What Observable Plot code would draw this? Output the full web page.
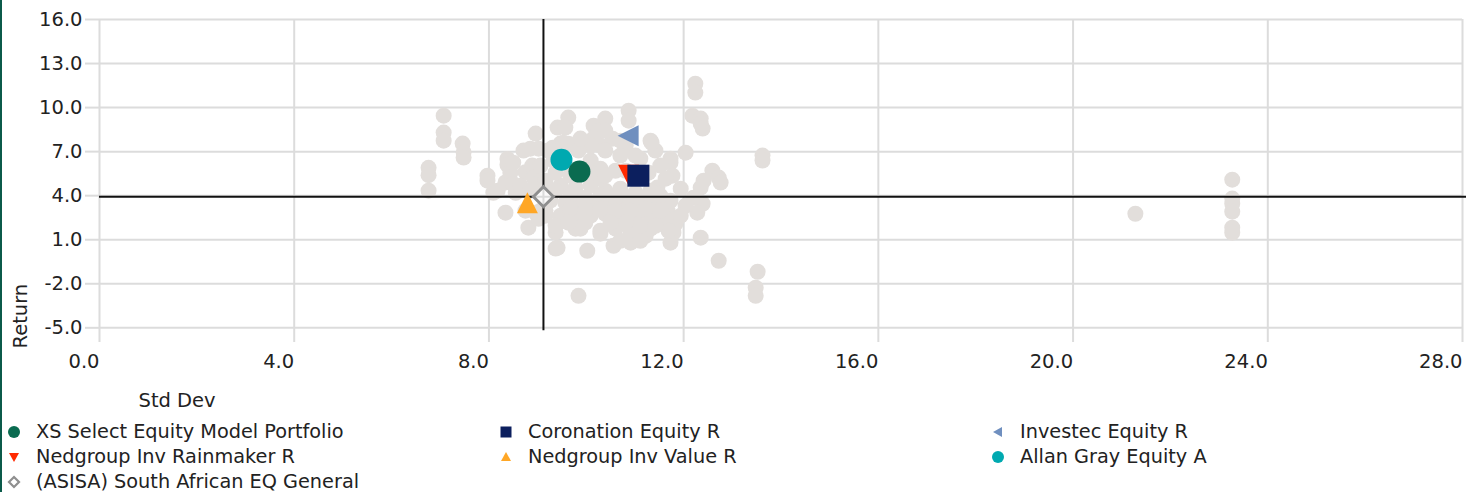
<!DOCTYPE html>
<html>
<head>
<meta charset="utf-8">
<script src="https://cdn.jsdelivr.net/npm/d3@7"></script>
<script src="https://cdn.jsdelivr.net/npm/@observablehq/plot@0.6"></script>
<style>
  html, body { margin: 0; padding: 0; background: #fff; }
  body { width: 1466px; height: 492px; overflow: hidden; position: relative; font-family: "DejaVu Sans", Verdana, sans-serif; color: #222; }
  #edge { position: absolute; left: 0; top: 0; width: 2px; height: 492px; background: #0b5a4a; z-index: 5; }
  #legend { position: relative; padding-top: 7px; font-size: 19.3px; line-height: 25px; }
  .row { display: flex; height: 25px; width: 1500px; }
  .item { flex: none; width: 492px; display: flex; align-items: center; padding-left: 6px; box-sizing: border-box; white-space: nowrap; }
  .item svg { width: 16px; height: 16px; margin-right: 14px; flex: none; }
</style>
</head>
<body>
<div id="edge"></div>
<div id="chart"></div>
<div id="legend"></div>
<script>
// ---- Data ----
const xTicks = [0, 4, 8, 12, 16, 20, 24, 28];
const yTicks = [-5, -2, 1, 4, 7, 10, 13, 16];

const fundNames = ["XS Select Equity Model Portfolio", "Coronation Equity R", "Investec Equity R",
  "Nedgroup Inv Rainmaker R", "Nedgroup Inv Value R", "Allan Gray Equity A", "(ASISA) South African EQ General"];
const fundStdDev = [9.86, 11.07, 10.86, 10.87, 8.79, 9.49, 9.12];
const fundReturn = [5.64, 5.36, 8.09, 5.40, 3.52, 6.45, 3.93];
const fundColors = ["#0a6b50", "#0c1f5e", "#6f8fbf", "#ff2a00", "#ffa726", "#00a9b0", "#8f8f8f"];
const fundShapes = ["circle", "square", "triangleLeft", "triangleDown", "triangleUp", "circle", "diamond"];

const benchStdDev = 9.12;
const benchReturn = 3.93;

const peerStdDev = [
  6.76, 6.76, 6.76, 7.07, 7.07, 7.07, 7.46, 7.48, 7.48, 7.97, 7.97, 8.09, 8.18,
  8.34, 8.34, 8.38, 8.38, 8.44, 8.50, 8.50, 8.55, 8.65, 8.71, 8.75, 8.81, 8.85,
  8.89, 8.92, 8.96, 8.96, 9.02, 9.02, 9.06, 9.16, 9.16, 9.22, 9.33, 9.37, 9.41, 9.37,
  9.41, 9.47, 9.31, 9.63, 9.57, 9.53, 9.63, 10.39, 10.15, 10.15, 10.29,
  10.87, 10.87, 11.32, 12.24, 12.24, 12.18, 12.35, 12.35, 12.39,
  12.04, 11.73, 11.73, 11.77, 12.59, 12.72, 12.76, 12.41, 12.35,
  12.20, 12.39, 12.28, 12.35, 11.46, 11.48, 11.59, 11.67,
  11.83, 11.79, 11.73, 11.22, 10.91, 10.56, 10.29, 10.02, 9.78, 9.84,
  12.72, 13.52, 13.48, 13.48, 13.62, 13.62, 21.28,
  23.27, 23.27, 23.27, 23.27, 23.27, 23.27,
  10.25, 10.54, 10.81, 10.09, 10.39, 10.70, 11.11, 11.42, 10.09, 10.29, 10.60, 11.28, 11.52, 11.63,
  9.47, 9.78, 10.09, 10.39, 10.70, 11.01, 11.32, 11.94, 10.29,
  9.26, 9.57, 9.88, 10.19, 10.50, 10.81, 11.11, 11.42, 11.73, 12.04,
  9.16, 9.47, 9.78, 10.09, 10.39, 10.70, 11.01, 11.32, 11.63, 11.94,
  9.37, 9.88, 10.29, 10.60, 10.91, 11.32, 11.69, 11.11, 10.70,
  9.16, 9.06, 8.65, 8.75, 9.06, 9.16, 9.37, 8.85, 9.67, 10.09, 9.37, 11.34,
  9.67, 9.98, 10.29, 10.60, 10.91, 11.22, 11.52, 9.67, 9.98, 10.29, 10.60, 10.91, 11.22, 11.52,
  9.63, 9.98, 11.11, 11.42, 10.81, 10.50,
  9.84, 9.88, 10.39, 10.70, 11.01, 10.39, 10.81
];
const peerReturn = [
  5.90, 5.40, 4.34, 9.45, 8.30, 7.75, 7.55, 6.95, 6.60, 5.36, 5.02, 4.20, 4.34,
  2.84, 4.90, 6.50, 6.10, 5.57, 6.25, 4.80, 4.20, 4.50, 7.07, 5.60, 1.82, 7.20,
  6.05, 5.23, 8.23, 2.84, 7.20, 2.43, 5.00, 3.00, 4.70, 7.07, 6.39, 0.40, 0.45, 1.50,
  8.64, 7.55, 7.27, 9.32, 8.64, 7.61, 7.54, 9.25, 8.77, 7.90, 7.41,
  9.79, 9.11, 7.75, 11.63, 11.02, 9.45, 9.25, 8.91, 8.57,
  6.93, 6.52, 6.25, 5.36, 5.70, 5.23, 4.89, 5.02, 4.55,
  3.86, 3.45, 2.84, 1.14, 4.55, 4.14, 3.45, 2.98,
  2.09, 1.48, 0.80, 1.27, 0.80, 0.59, 1.41, 0.25, 1.75, -2.82,
  -0.43, -1.18, -2.27, -2.82, 6.73, 6.39, 2.77,
  5.09, 3.80, 3.45, 2.91, 1.82, 1.48,
  8.43, 7.88, 7.41, 7.41, 7.07, 6.73, 6.52, 7.07, 6.39, 5.84, 5.70, 5.57, 6.05, 5.16,
  4.68, 4.55, 4.68, 4.34, 4.48, 4.20, 4.34, 4.48, 5.16,
  3.66, 3.52, 3.66, 3.45, 3.32, 3.45, 3.32, 3.32, 3.66, 3.32,
  2.64, 2.64, 2.77, 2.64, 2.77, 2.50, 2.64, 2.64, 2.43, 2.64,
  1.95, 1.75, 1.61, 1.75, 1.48, 1.75, 1.61, 0.93, 0.93,
  5.02, 6.05, 4.68, 2.98, 2.98, 3.80, 4.34, 4.34, 5.36, 5.57, 5.57, 7.61,
  4.00, 3.86, 4.00, 3.86, 3.80, 3.86, 4.00, 3.11, 2.98, 3.11, 2.98, 2.98, 3.11, 2.98,
  2.16, 2.16, 1.95, 1.95, 2.16, 2.16,
  7.07, 7.89, 8.43, 7.75, 6.73, 5.36, 5.70
];

// ---- Symbols ----
function shapeSymbol(kind) {
  return {
    draw(ctx, size) {
      const r = Math.sqrt(size / Math.PI);
      if (kind === "circle") { ctx.moveTo(r, 0); ctx.arc(0, 0, r, 0, 2 * Math.PI); }
      else if (kind === "square") { ctx.rect(-r, -r, 2 * r, 2 * r); }
      else if (kind === "triangleUp") { ctx.moveTo(0, -r); ctx.lineTo(r, r); ctx.lineTo(-r, r); ctx.closePath(); }
      else if (kind === "triangleDown") { ctx.moveTo(-r, -r); ctx.lineTo(r, -r); ctx.lineTo(0, r); ctx.closePath(); }
      else if (kind === "triangleLeft") { ctx.moveTo(-r, 0); ctx.lineTo(r, -r); ctx.lineTo(r, r); ctx.closePath(); }
      else if (kind === "diamond") { ctx.moveTo(0, -r); ctx.lineTo(r, 0); ctx.lineTo(0, r); ctx.lineTo(-r, 0); ctx.closePath(); }
    }
  };
}
const shapeR = {circle: 11, square: 11, triangleUp: 10.5, triangleDown: 10.5, triangleLeft: 10.5, diamond: 10};

const peers = peerStdDev.map((x, i) => ({x, y: peerReturn[i]}));
const funds = fundNames.map((name, i) => ({name, x: fundStdDev[i], y: fundReturn[i], color: fundColors[i], shape: fundShapes[i]}));

const fundMarks = [];
for (let i = funds.length - 2; i >= 0; i--) {
  const f = funds[i];
  fundMarks.push(Plot.dot([f], {x: "x", y: "y", r: shapeR[f.shape], symbol: shapeSymbol(f.shape), fill: f.color, stroke: "none"}));
}
{
  const f = funds[funds.length - 1];
  fundMarks.push(Plot.dot([f], {x: "x", y: "y", r: shapeR[f.shape], symbol: shapeSymbol(f.shape), fill: "#fff", fillOpacity: 0.85, stroke: f.color, strokeWidth: 3}));
}

const chart = Plot.plot({
  width: 1466,
  height: 412,
  marginTop: 19,
  marginLeft: 99,
  marginRight: 4,
  marginBottom: 70,
  x: {domain: [0, 28]},
  y: {domain: [-6, 16]},
  style: {fontFamily: "'DejaVu Sans', Verdana, sans-serif", fontSize: "19.5px", color: "#222", background: "#fff", overflow: "visible"},
  marks: [
    Plot.ruleX(xTicks, {y1: -6, y2: 16, stroke: "#dcdcdc", strokeWidth: 2}),
    Plot.ruleY(yTicks, {x1: 0, x2: 28, stroke: "#dcdcdc", strokeWidth: 2}),
    Plot.axisY({ticks: yTicks, tickSize: 14, tickPadding: 3, stroke: "#dcdcdc", strokeWidth: 2, fill: "#222", fontSize: 19.5, tickFormat: d => d.toFixed(1), label: null}),
    Plot.axisX({ticks: xTicks, tickSize: 0, tickPadding: 12, textAnchor: "end", fill: "#222", fontSize: 19.5, tickFormat: d => d.toFixed(1), label: null}),
    Plot.dot(peers, {x: "x", y: "y", r: 8, fill: "#e2dedb", stroke: "none"}),
    Plot.ruleY([benchReturn], {x1: 0, x2: 28.2, stroke: "#111", strokeWidth: 2}),
    Plot.ruleX([benchStdDev], {y1: -5.2, y2: 16, stroke: "#111", strokeWidth: 2}),
    ...fundMarks,
    Plot.text(["Return"], {frameAnchor: "bottom-left", rotate: -90, textAnchor: "start", dx: -73, dy: 6, fill: "#222", fontSize: 19.5}),
    Plot.text(["Std Dev"], {frameAnchor: "bottom-left", textAnchor: "start", dx: 39, dy: 64, fill: "#222", fontSize: 19.5})
  ]
});
document.getElementById("chart").appendChild(chart);

// ---- Legend ----
function legendIcon(shape, color) {
  const c = 8;
  let s;
  if (shape === "circle") s = `<circle cx="${c}" cy="${c}" r="6" fill="${color}"/>`;
  else if (shape === "square") s = `<rect x="2.5" y="2.5" width="11" height="11" fill="${color}"/>`;
  else if (shape === "triangleUp") s = `<path d="M8,3 L13,12 L3,12 Z" fill="${color}"/>`;
  else if (shape === "triangleDown") s = `<path d="M3,4 L13,4 L8,13 Z" fill="${color}"/>`;
  else if (shape === "triangleLeft") s = `<path d="M3,8 L12,3 L12,13 Z" fill="${color}"/>`;
  else s = `<path d="M8,3 L13,8 L8,13 L3,8 Z" fill="#fff" stroke="${color}" stroke-width="2.2"/>`;
  return `<svg viewBox="0 0 16 16">${s}</svg>`;
}
const legend = document.getElementById("legend");
for (let r = 0; r < Math.ceil(funds.length / 3); r++) {
  const row = document.createElement("div");
  row.className = "row";
  for (let c = 0; c < 3; c++) {
    const f = funds[r * 3 + c];
    if (!f) break;
    const it = document.createElement("div");
    it.className = "item";
    it.innerHTML = legendIcon(f.shape, f.color) + `<span>${f.name}</span>`;
    row.appendChild(it);
  }
  legend.appendChild(row);
}
</script>
</body>
</html>
